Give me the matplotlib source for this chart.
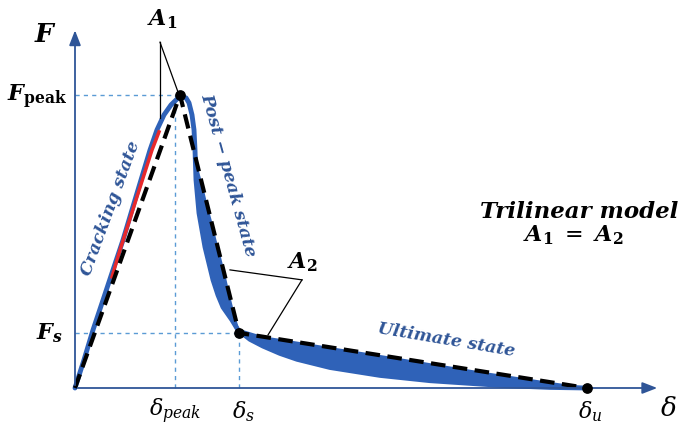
import numpy as np
import matplotlib.pyplot as plt

plt.rcParams['mathtext.fontset'] = 'dejavuserif'

# key points of the trilinear model (delta, F), normalised units
d_peak, F_peak = 1.05, 1.0
d_s, F_s = 1.64, 0.188
d_u = 5.12
tri_d = [0.0, d_peak, d_s, d_u]
tri_F = [0.0, F_peak, F_s, 0.0]
d_peak_line = 1.0

# measured curve: ascending branch up to the peak
asc_d = [0.0, 0.09, 0.18, 0.28, 0.38, 0.48, 0.57, 0.66, 0.75, 0.82, 0.89, 0.96, 1.02, 1.07]
asc_F = [0.0, 0.096, 0.198, 0.300, 0.403, 0.505, 0.608, 0.710, 0.812, 0.881, 0.932, 0.966, 0.986, 0.993]

# red part of the ascending branch
red_d = [0.37, 0.45, 0.53, 0.61, 0.69, 0.77, 0.84]
red_F = [0.379, 0.471, 0.556, 0.642, 0.727, 0.812, 0.874]

# softening band: lower/left envelope
low_d = [1.11, 1.14, 1.17, 1.19, 1.20, 1.21, 1.24, 1.30, 1.38, 1.43, 1.48, 1.57, 1.63,
         1.75, 1.88, 2.05, 2.22, 2.55, 3.05, 3.55, 4.25, 4.75, 5.12]
low_F = [0.990, 0.973, 0.932, 0.881, 0.812, 0.710, 0.597, 0.481, 0.369, 0.317, 0.276, 0.232, 0.198,
         0.166, 0.143, 0.118, 0.098, 0.070, 0.043, 0.025, 0.009, 0.002, 0.0]

# softening band: upper/right envelope
up_d = [1.21, 1.275, 1.31, 1.36, 1.40, 1.44, 1.49, 1.535, 1.58, 1.63,
        1.88, 2.25, 2.55, 3.05, 3.55, 4.05, 4.55, 4.95, 5.12]
up_F = [0.760, 0.676, 0.625, 0.563, 0.505, 0.454, 0.386, 0.317, 0.256, 0.198,
        0.172, 0.152, 0.135, 0.108, 0.080, 0.052, 0.026, 0.006, 0.0]

blue = '#2f62b8'
axis_c = '#2f5597'
guide_c = '#5b9bd5'
txt_blue = '#2f5597'

fig = plt.figure(figsize=(6.82, 4.28), dpi=100)
ax = fig.add_axes([0, 0, 1, 1])
ax.set_xlim(-0.75, 6.07)
ax.set_ylim(-0.1365, 1.324)
ax.axis('off')

# axes with arrows
ax.annotate('', xy=(5.85, 0), xytext=(0, 0),
            arrowprops=dict(arrowstyle='-|>,head_length=0.9,head_width=0.35', color=axis_c, lw=1.3))
ax.annotate('', xy=(0, 1.23), xytext=(0, 0),
            arrowprops=dict(arrowstyle='-|>,head_length=0.9,head_width=0.35', color=axis_c, lw=1.3))

# guide lines
ax.plot([0, d_peak], [F_peak, F_peak], ls=(0, (3, 3)), color=guide_c, lw=1)
ax.plot([d_peak_line, d_peak_line], [0, F_peak], ls=(0, (3, 3)), color=guide_c, lw=1)
ax.plot([0, d_s], [F_s, F_s], ls=(0, (3, 3)), color=guide_c, lw=1)
ax.plot([d_s, d_s], [0, F_s], ls=(0, (3, 3)), color=guide_c, lw=1)

# measured curves
k = low_d.index(1.21)
ax.fill(up_d + low_d[::-1][:-k], up_F + low_F[::-1][:-k], color=blue, lw=0)
ax.plot(asc_d + low_d, asc_F + low_F, color=blue, lw=3.5, solid_capstyle='round',
        solid_joinstyle='round')
ax.plot(up_d, up_F, color=blue, lw=2, solid_joinstyle='round')
ax.plot(red_d, red_F, color='#e8292b', lw=2.5)

# trilinear model
ax.plot(tri_d, tri_F, color='black', ls=(0, (3.5, 1.8)), lw=3)
ax.scatter(tri_d[1:], tri_F[1:], s=45, color='black', zorder=5)

# leader lines for A1 and A2
ax.plot([0.85, 0.85], [1.18, 0.92], color='black', lw=0.9)
ax.plot([0.85, 1.03], [1.18, 1.01], color='black', lw=0.9)
ax.plot([2.27, 1.55], [0.369, 0.403], color='black', lw=0.9)
ax.plot([2.27, 1.93], [0.369, 0.181], color='black', lw=0.9)

# labels
ax.text(-0.30, 1.205, r'$\mathbfit{F}$', fontsize=19, ha='center', va='center')
ax.text(-0.08, 0.993, r'$\mathbfit{F}_{\mathbf{peak}}$', fontsize=16, ha='right', va='center')
ax.text(-0.12, 0.188, r'$\mathbfit{F}_{\mathbfit{s}}$', fontsize=16, ha='right', va='center')
ax.text(1.0, -0.08, r'$\delta_{peak}$', fontsize=16, ha='center', va='center')
ax.text(1.68, -0.08, r'$\delta_s$', fontsize=16, ha='center', va='center')
ax.text(5.15, -0.08, r'$\delta_u$', fontsize=16, ha='center', va='center')
ax.text(5.93, -0.07, r'$\delta$', fontsize=19, ha='center', va='center')
ax.text(0.87, 1.26, r'$\mathbfit{A}_\mathbf{1}$', fontsize=16, ha='center', va='center')
ax.text(2.27, 0.43, r'$\mathbfit{A}_\mathbf{2}$', fontsize=16, ha='center', va='center')

ax.text(0.36, 0.614, 'Cracking state', fontsize=12.5, family='DejaVu Serif', style='italic',
        weight='bold', color=txt_blue, rotation=69.7, ha='center', va='center', rotation_mode='anchor')
ax.text(1.53, 0.727, 'Post − peak state', fontsize=12.5, family='DejaVu Serif', style='italic',
        weight='bold', color=txt_blue, rotation=-74.5, ha='center', va='center', rotation_mode='anchor')
ax.text(3.71, 0.164, 'Ultimate state', fontsize=12.5, family='DejaVu Serif', style='italic',
        weight='bold', color=txt_blue, rotation=-9.6, ha='center', va='center', rotation_mode='anchor')

ax.text(5.04, 0.60, 'Trilinear model', fontsize=16.5, family='DejaVu Serif', style='italic',
        weight='bold', ha='center', va='center')
ax.text(4.98, 0.522, r'$\mathbfit{A}_\mathbf{1}\ =\ \mathbfit{A}_\mathbf{2}$', fontsize=16,
        ha='center', va='center')

fig.savefig('out.png', dpi=100)
